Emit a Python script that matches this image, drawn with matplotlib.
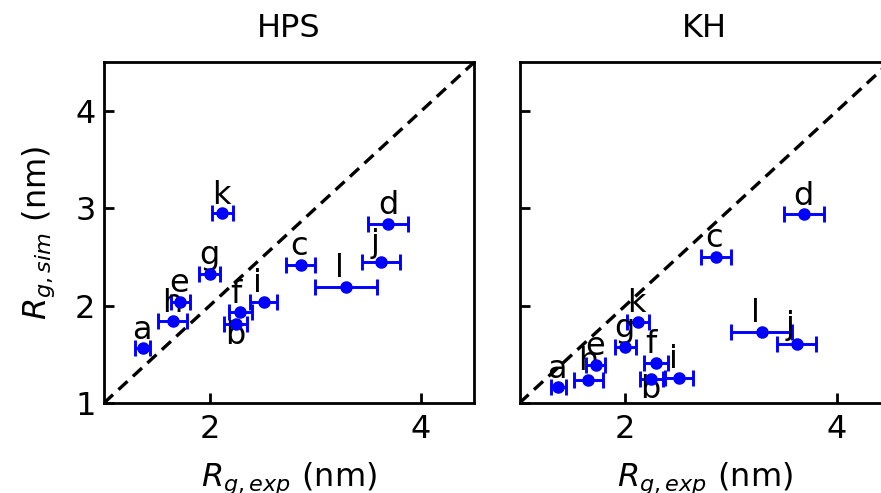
import matplotlib
matplotlib.use("Agg")
import matplotlib.pyplot as plt

labels = ["a", "b", "c", "d", "e", "f", "g", "h", "i", "j", "k", "l"]
rg_exp = [1.365, 2.245, 2.86, 3.69, 1.72, 2.29, 2.00, 1.65, 2.51, 3.62, 2.12, 3.29]
rg_exp_err = [0.07, 0.11, 0.14, 0.19, 0.09, 0.11, 0.10, 0.135, 0.13, 0.18, 0.10, 0.29]
rg_hps = [1.56, 1.81, 2.42, 2.84, 2.04, 1.93, 2.33, 1.84, 2.04, 2.45, 2.95, 2.19]
rg_kh = [1.16, 1.25, 2.50, 2.94, 1.39, 1.41, 1.58, 1.24, 1.26, 1.61, 1.83, 1.73]
titles = ["HPS", "KH"]

FS = 23
plt.rcParams["font.family"] = "DejaVu Sans"
plt.rcParams["mathtext.fontset"] = "dejavusans"

fig = plt.figure(figsize=(8.81, 4.93), dpi=100)
ax1 = fig.add_axes([0.118, 0.1826, 0.420, 0.6907])
ax2 = fig.add_axes([0.5897, 0.1826, 0.420, 0.6907])

for ax, sim, title in zip([ax1, ax2], [rg_hps, rg_kh], titles):
    ax.plot([1, 4.5], [1, 4.5], ls=(0, (3.7, 2.2)), color="black", lw=2.4, zorder=1)
    ax.errorbar(rg_exp, sim, xerr=rg_exp_err, fmt="o", color="blue",
                ms=8, lw=2.1, capsize=6, capthick=2.1, zorder=3)
    for lab, x, y in zip(labels, rg_exp, sim):
        if lab == "b":
            ax.text(x - 0.1, y - 0.2, lab, fontsize=FS)
        else:
            ax.text(x - 0.1, y + 0.1, lab, fontsize=FS)
    ax.set_xlim(1, 4.5)
    ax.set_ylim(1, 4.5)
    ax.set_xticks([2, 4])
    ax.set_yticks([1, 2, 3, 4])
    ax.tick_params(direction="in", length=7, width=2.0, labelsize=FS)
    ax.tick_params(axis="x", pad=8)
    ax.tick_params(axis="y", pad=6)
    for sp in ax.spines.values():
        sp.set_linewidth(2.0)
    ax.set_title(title, fontsize=FS, pad=18)
    ax.set_xlabel(r"$R_{g,exp}$ (nm)", fontsize=FS, labelpad=11)

ax1.set_ylabel(r"$R_{g,sim}$ (nm)", fontsize=FS, labelpad=13)
ax2.set_yticklabels([])

fig.savefig("out.png", dpi=100)
